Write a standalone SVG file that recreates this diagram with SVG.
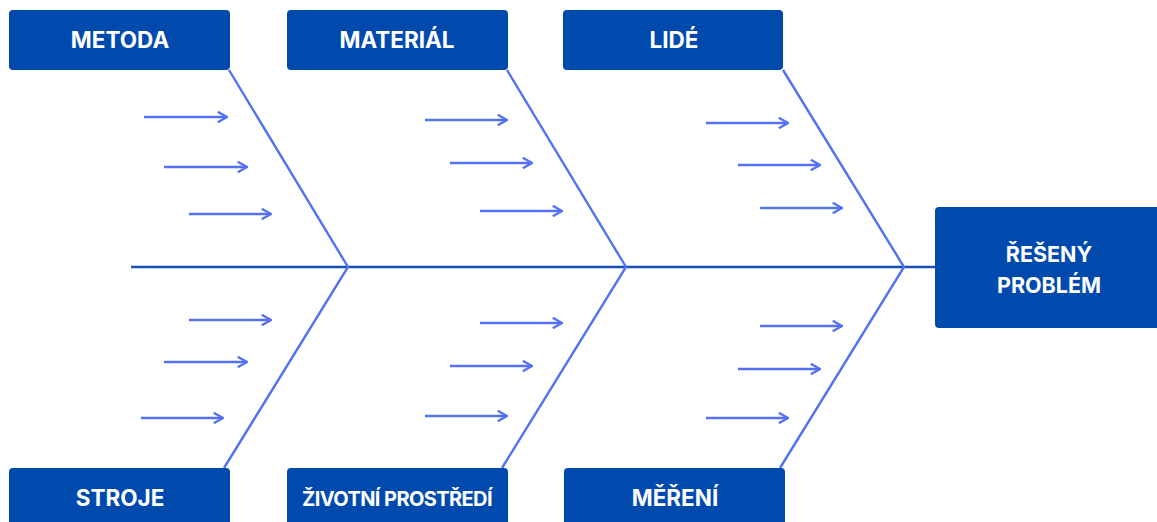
<svg xmlns="http://www.w3.org/2000/svg" width="1157" height="522" viewBox="0 0 1157 522">
<defs>
<style>
.box{fill:#004AAD;}
.lbl{font-family:Inter,"Liberation Sans",sans-serif;font-weight:700;font-size:22.5px;fill:#fff;text-anchor:middle;}
.rib{stroke:#5470F5;stroke-width:2.4;fill:none;}
.spine{stroke:#1650B4;stroke-width:2.5;fill:none;}
.arr{stroke:#5470F5;stroke-width:2.4;fill:none;marker-end:url(#ah);}
</style>
<marker id="ah" viewBox="0 0 10 10" refX="9" refY="5" markerWidth="5.5" markerHeight="5.5" markerUnits="strokeWidth" orient="auto">
<path d="M2,1 L9,5 L2,9" fill="none" stroke="#5470F5" stroke-width="1.8"/>
</marker>
</defs>
<rect width="1157" height="522" fill="#fff"/>
<g id="connectors">
<line class="spine" x1="131" y1="267" x2="936" y2="267"/>
<polyline class="rib" points="229,70 348,267 224,468"/>
<polyline class="rib" points="507,70 626,267 502,468"/>
<polyline class="rib" points="783,70 904,267 780,468"/>
<line class="arr" x1="144" y1="117" x2="227" y2="117"/>
<line class="arr" x1="164" y1="167" x2="247" y2="167"/>
<line class="arr" x1="189" y1="214" x2="271" y2="214"/>
<line class="arr" x1="425" y1="120" x2="507" y2="120"/>
<line class="arr" x1="450" y1="163" x2="532" y2="163"/>
<line class="arr" x1="480" y1="211" x2="562" y2="211"/>
<line class="arr" x1="706" y1="123" x2="788" y2="123"/>
<line class="arr" x1="738" y1="165" x2="820" y2="165"/>
<line class="arr" x1="760" y1="208" x2="842" y2="208"/>
<line class="arr" x1="189" y1="320" x2="271" y2="320"/>
<line class="arr" x1="164" y1="362" x2="247" y2="362"/>
<line class="arr" x1="141" y1="418" x2="223" y2="418"/>
<line class="arr" x1="480" y1="323" x2="562" y2="323"/>
<line class="arr" x1="450" y1="366" x2="532" y2="366"/>
<line class="arr" x1="425" y1="416" x2="507" y2="416"/>
<line class="arr" x1="760" y1="326" x2="842" y2="326"/>
<line class="arr" x1="738" y1="369" x2="820" y2="369"/>
<line class="arr" x1="706" y1="418" x2="788" y2="418"/>
</g>
<g id="metoda"><rect class="box" x="9" y="10" width="221" height="60" rx="4"/><text class="lbl" x="120" y="48">METODA</text></g>
<g id="material"><rect class="box" x="287" y="10" width="221" height="60" rx="4"/><text class="lbl" x="397" y="48">MATERIÁL</text></g>
<g id="lide"><rect class="box" x="563" y="10" width="220" height="60" rx="4"/><text class="lbl" x="674" y="48">LIDÉ</text></g>
<g id="stroje"><rect class="box" x="9" y="468" width="221" height="64" rx="4"/><text class="lbl" x="120" y="506">STROJE</text></g>
<g id="zivotni"><rect class="box" x="287" y="468" width="221" height="64" rx="4"/><text class="lbl" x="397" y="506" style="font-size:20px;letter-spacing:-0.6px">ŽIVOTNÍ PROSTŘEDÍ</text></g>
<g id="mereni"><rect class="box" x="564" y="468" width="221" height="64" rx="4"/><text class="lbl" x="675" y="506">MĚŘENÍ</text></g>
<g id="problem"><rect class="box" x="935" y="207" width="232" height="121" rx="4"/><text class="lbl" x="1049" y="262" style="font-size:21.5px">ŘEŠENÝ</text><text class="lbl" x="1049" y="293" style="font-size:21.5px">PROBLÉM</text></g>
</svg>
